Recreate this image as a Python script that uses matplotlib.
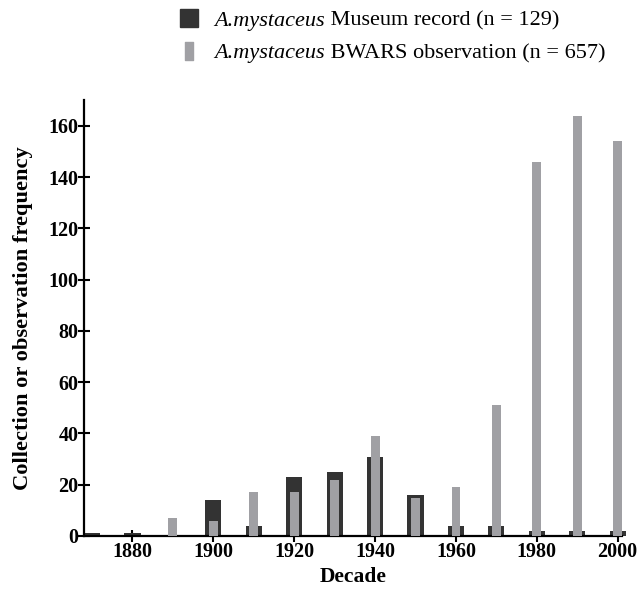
import matplotlib
matplotlib.use("Agg")
from matplotlib import pyplot as plt
from matplotlib.lines import Line2D
from matplotlib.path import Path

plt.rcParams['font.family'] = 'Liberation Serif'

decades = [1870, 1880, 1890, 1900, 1910, 1920, 1930, 1940, 1950, 1960, 1970, 1980, 1990, 2000]
museum = [1, 1, 0, 14, 4, 23, 25, 31, 16, 4, 4, 2, 2, 2]
bwars = [0, 0, 7, 6, 17, 17, 22, 39, 15, 19, 51, 146, 164, 154]

species = 'A.mystaceus'
series = [' Museum record (n = 129)', ' BWARS observation (n = 657)']

dark = '#333333'
grey = '#a0a0a4'

fig = plt.figure(figsize=(6.44, 5.89), dpi=100)
ax = fig.add_axes([0.1304, 0.090, 0.835, 0.740])

ax.bar(decades, museum, width=4, color=dark, clip_on=False, zorder=2)
ax.bar(decades, bwars, width=2.2, color=grey, clip_on=False, zorder=3)

ax.set_xlim(1868, 2001)
ax.set_ylim(0, 170)
ax.set_xticks(range(1880, 2001, 20))
ax.set_yticks(range(0, 161, 20))
for s in ['top', 'right']:
    ax.spines[s].set_visible(False)
for s in ['left', 'bottom']:
    ax.spines[s].set_linewidth(1.6)
ax.tick_params(direction='inout', length=8, width=1.5, labelsize=14.5, pad=0)
for lab in ax.get_xticklabels() + ax.get_yticklabels():
    lab.set_fontweight('bold')

ax.set_xlabel('Decade', fontsize=15.5, fontweight='bold', labelpad=4)
ax.set_ylabel('Collection or observation frequency', fontsize=16.2, fontweight='bold', labelpad=11)

# narrow upright bar marker for the observation series
tall = Path([(-0.22, -0.5), (0.22, -0.5), (0.22, 0.5), (-0.22, 0.5), (-0.22, -0.5)],
            [Path.MOVETO, Path.LINETO, Path.LINETO, Path.LINETO, Path.CLOSEPOLY])
handles = [
    Line2D([], [], ls='none', marker='s', markersize=13, color=dark),
    Line2D([], [], ls='none', marker=tall, markersize=13, color=grey),
]
leg = fig.legend(handles, [species, species], loc='upper left', bbox_to_anchor=(0.258, 1.0),
                 frameon=False, fontsize=16, handlelength=1.2, handletextpad=0.5,
                 labelspacing=0.55, borderaxespad=0.05)
# species name in italics, the rest of each entry in roman type after it
for txt, rest in zip(leg.get_texts(), series):
    txt.set_fontstyle('italic')
    fig.add_artist(plt.Annotation(rest, xy=(1, 0), xycoords=txt, va='bottom', ha='left',
                                  fontsize=16, zorder=10))

fig.savefig('out.png', dpi=100)
